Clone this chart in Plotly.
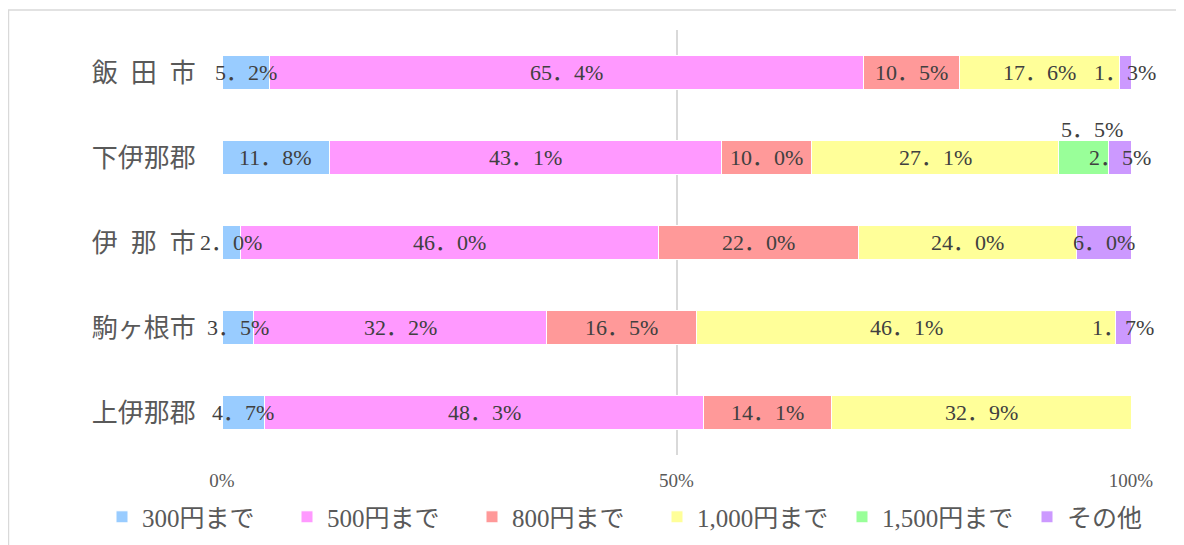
import plotly.graph_objects as go

categories = ["飯\u2002田\u2002市", "下伊那郡", "伊\u2002那\u2002市", "駒ヶ根市", "上伊那郡"]
series_names = ["300円まで", "500円まで", "800円まで", "1,000円まで", "1,500円まで", "その他"]
v300 = [5.2, 11.8, 2.0, 3.5, 4.7]
v500 = [65.4, 43.1, 46.0, 32.2, 48.3]
v800 = [10.5, 10.0, 22.0, 16.5, 14.1]
v1000 = [17.6, 27.1, 24.0, 46.1, 32.9]
v1500 = [0.0, 5.5, 0.0, 0.0, 0.0]
vother = [1.3, 2.5, 6.0, 1.7, 0.0]
colors = ["#99CCFF", "#FF99FF", "#FF9999", "#FFFF99", "#99FF99", "#CC99FF"]
tick_vals = [0, 50, 100]
tick_text = ["0%", "50%", "100%"]

all_series = [v300, v500, v800, v1000, v1500, vother]
# labels that Excel placed above the bar (series index)
above_series = {4}


def fmt(v):
    return f"{v:.1f}".replace(".", "．") + "%"


LABEL_FONT = "Liberation Serif, Noto Sans CJK JP, serif"

fig = go.Figure()
for name, vals, col in zip(series_names, all_series, colors):
    fig.add_trace(go.Bar(
        y=categories, x=vals, name=name, orientation="h",
        marker=dict(color=col, line=dict(color="white", width=1)),
        hoverinfo="skip",
    ))

# data labels, centred on each segment (computed from the data)
for j, cat in enumerate(categories):
    cum = 0.0
    for i, vals in enumerate(all_series):
        v = vals[j]
        if v > 0:
            if i in above_series:
                fig.add_annotation(x=cum + v / 2, y=cat, text=fmt(v), showarrow=False,
                                   yshift=28, xshift=9,
                                   font=dict(family=LABEL_FONT, size=22, color="#404040"))
            else:
                fig.add_annotation(x=cum + v / 2, y=cat, text=fmt(v), showarrow=False,
                                   font=dict(family=LABEL_FONT, size=22, color="#404040"))
        cum += v

# chart border
fig.add_shape(type="rect", xref="paper", yref="paper",
              x0=-0.2349, x1=1.0561, y0=-0.3, y1=1.0471,
              line=dict(color="#D9D9D9", width=1.5), fillcolor="rgba(0,0,0,0)", layer="below")

fig.update_layout(
    barmode="stack", bargap=0.6,
    width=1184, height=545,
    margin=dict(l=214, r=61, t=22, b=98, autoexpand=False),
    paper_bgcolor="white", plot_bgcolor="white",
    showlegend=True,
    legend=dict(orientation="h", x=-0.132, xanchor="left", y=-0.146, yanchor="middle",
                font=dict(family="Liberation Serif, Noto Sans CJK JP, serif", size=25, color="#595959"),
                itemwidth=30, entrywidth=140, entrywidthmode="pixels",
                traceorder="normal", itemclick=False, itemdoubleclick=False),
    xaxis=dict(range=[0, 100], tickvals=tick_vals, ticktext=tick_text,
               showgrid=True, gridcolor="#D9D9D9", gridwidth=2,
               zeroline=False, showline=False, automargin=False,
               ticks="outside", ticklen=8, tickcolor="rgba(0,0,0,0)",
               tickfont=dict(family="Liberation Serif, serif", size=19, color="#595959")),
    yaxis=dict(categoryorder="array", categoryarray=categories, autorange="reversed",
               showgrid=False, zeroline=False, showline=False, automargin=False,
               ticks="outside", ticklen=20, tickcolor="rgba(0,0,0,0)",
               tickfont=dict(family="Noto Sans CJK JP", size=26, color="#595959")),
)

fig.write_html("out.html")
